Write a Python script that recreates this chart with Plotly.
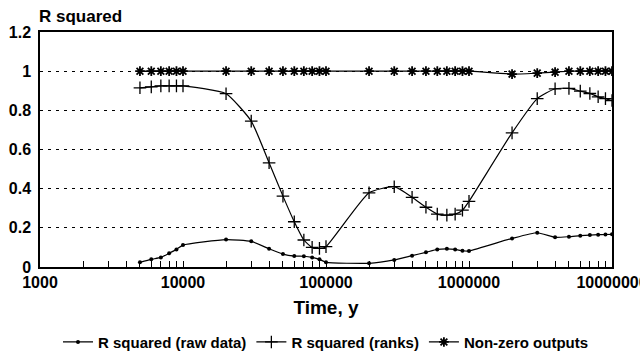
import plotly.graph_objects as go

# Simulation times (years)
time_y = [5000, 6000, 7000, 8000, 9000,
          10000, 20000, 30000, 40000, 50000, 60000, 70000, 80000, 90000,
          100000, 200000, 300000, 400000, 500000, 600000, 700000, 800000, 900000,
          1000000, 2000000, 3000000, 4000000, 5000000, 6000000, 7000000, 8000000, 9000000,
          10000000]

r2_raw = [0.024, 0.039, 0.049, 0.070, 0.090,
          0.112, 0.140, 0.131, 0.093, 0.066, 0.056, 0.055, 0.049, 0.039,
          0.024, 0.019, 0.036, 0.058, 0.075, 0.090, 0.093, 0.090, 0.083,
          0.082, 0.146, 0.175, 0.152, 0.155, 0.160, 0.163, 0.165, 0.166,
          0.167]

r2_ranks = [0.915, 0.920, 0.925, 0.925, 0.925,
            0.925, 0.885, 0.745, 0.532, 0.362, 0.231, 0.138, 0.100, 0.095,
            0.104, 0.379, 0.410, 0.356, 0.305, 0.270, 0.265, 0.270, 0.290,
            0.335, 0.685, 0.860, 0.910, 0.912, 0.898, 0.886, 0.869, 0.860,
            0.850]

nonzero = [1.0, 1.0, 1.0, 1.0, 1.0,
           1.0, 1.0, 1.0, 1.0, 1.0, 1.0, 1.0, 1.0, 1.0,
           1.0, 1.0, 1.0, 1.0, 1.0, 1.0, 1.0, 1.0, 1.0,
           1.0, 0.985, 0.99, 0.995, 1.0, 1.0, 1.0, 1.0, 1.0,
           1.0]

x_tick_vals = [1000, 10000, 100000, 1000000, 10000000]
x_tick_text = ["1000", "10000", "100000", "1000000", "10000000"]
minor_vals = [m * d for d in (1000, 10000, 100000, 1000000) for m in range(2, 10)]

FONT = "Liberation Sans, Arial, Helvetica, sans-serif"
LINE = dict(color="black", width=1.2, shape="spline", smoothing=0.5)

fig = go.Figure()
fig.add_trace(go.Scatter(
    x=time_y, y=r2_raw, mode="lines+markers", name="R squared (raw data)",
    line=LINE, marker=dict(symbol="circle", size=4, color="black"),
))
fig.add_trace(go.Scatter(
    x=time_y, y=r2_ranks, mode="lines+markers", name="R squared (ranks)",
    line=LINE,
    marker=dict(symbol="cross-thin-open", size=9, color="black",
                line=dict(color="black", width=1.3)),
))
fig.add_trace(go.Scatter(
    x=time_y, y=nonzero, mode="lines+markers", name="Non-zero outputs",
    line=LINE,
    marker=dict(symbol="asterisk-open", size=8, color="black",
                line=dict(color="black", width=1.8)),
))

fig.update_layout(
    width=640, height=357,
    margin=dict(l=40, r=28, t=32, b=90, autoexpand=False),
    paper_bgcolor="white", plot_bgcolor="white",
    font=dict(family=FONT, color="black"),
    showlegend=True,
    legend=dict(orientation="h", x=0.5, xanchor="center", y=-0.32, yanchor="middle",
                font=dict(family=FONT, size=15, weight="bold"),
                itemwidth=30, tracegroupgap=0, bgcolor="rgba(0,0,0,0)"),
    annotations=[dict(text="R squared", xref="paper", yref="paper", x=0, y=1,
                      xanchor="left", yanchor="bottom", xshift=-3, yshift=4,
                      showarrow=False,
                      font=dict(family=FONT, size=17, weight="bold"))],
)

fig.update_xaxes(
    type="log", range=[3, 7], automargin=False,
    tickvals=x_tick_vals, ticktext=x_tick_text,
    tickfont=dict(family=FONT, size=16, weight="bold"),
    ticklabeloverflow="allow",
    ticks="inside", ticklen=6, tickcolor="black",
    minor=dict(tickvals=minor_vals, ticks="inside", ticklen=6, tickcolor="black"),
    showgrid=False, zeroline=False,
    showline=True, linecolor="black", linewidth=1.5, mirror=True,
    title=dict(text="Time, y", font=dict(family=FONT, size=19, weight="bold"), standoff=11),
)

fig.update_yaxes(
    range=[0, 1.2], automargin=False,
    tickvals=[0, 0.2, 0.4, 0.6, 0.8, 1.0, 1.2],
    ticktext=["0", "0.2", "0.4", "0.6", "0.8", "1", "1.2"],
    tickfont=dict(family=FONT, size=16, weight="bold"),
    ticks="", ticklabelstandoff=4,
    showgrid=True, gridcolor="black", gridwidth=1, griddash="3px,5px",
    zeroline=False,
    showline=True, linecolor="black", linewidth=1.5, mirror=True,
)

fig.write_html("out.html")
